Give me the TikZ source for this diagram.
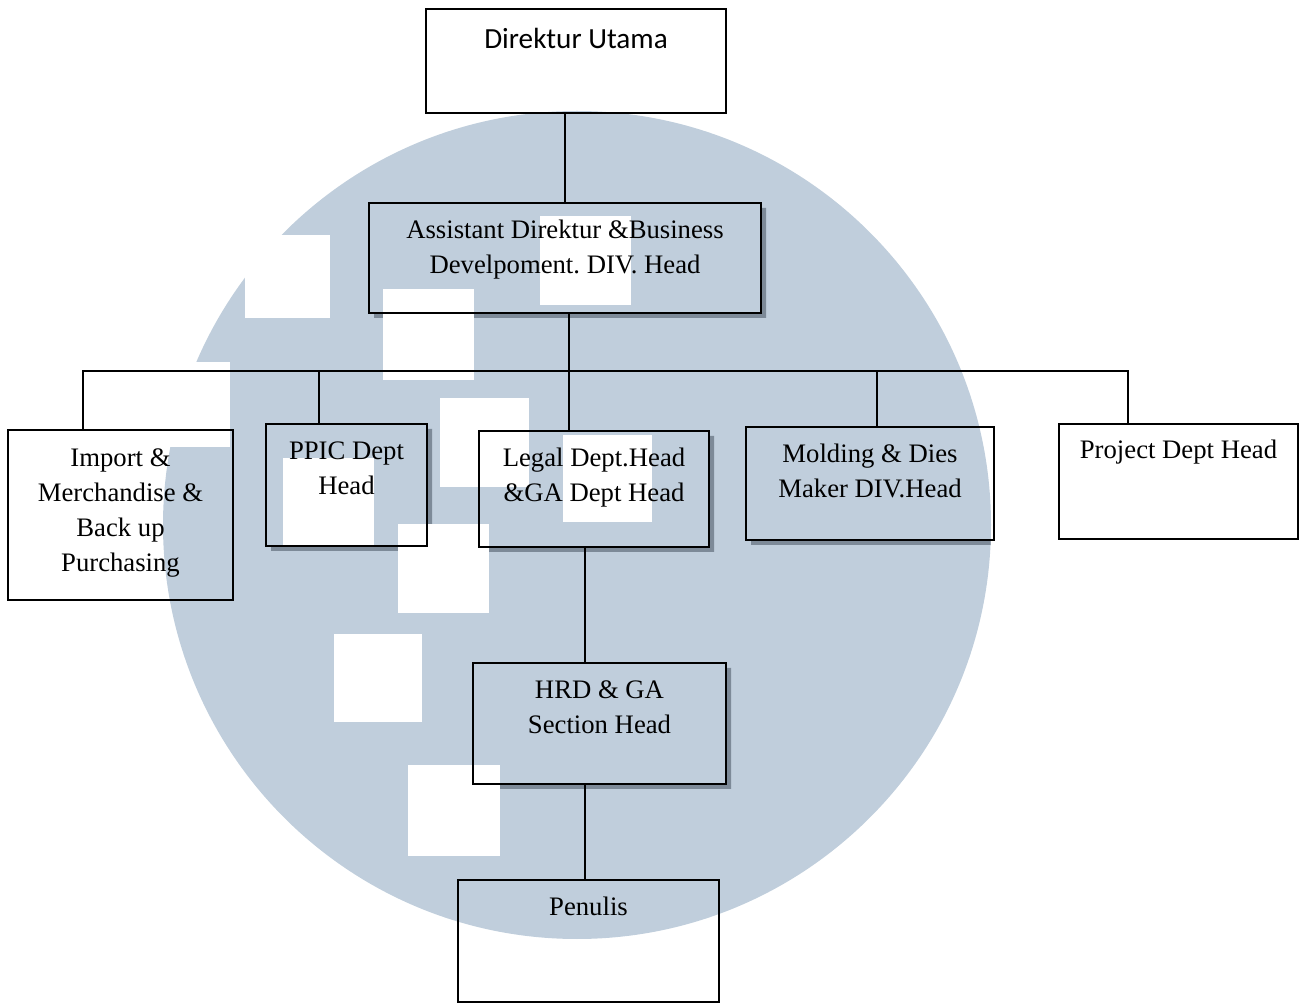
\documentclass[tikz,border=0pt]{standalone}
\usepackage{fontspec}
\setmainfont{Liberation Serif}
\newfontfamily\calibri{Carlito}
\usetikzlibrary{fit,backgrounds}
\frenchspacing
\definecolor{wmblue}{RGB}{192,206,220}
\definecolor{shadowgray}{RGB}{125,138,152}
\tikzset{
  box/.style={draw=black, line width=1pt, inner sep=0pt, outer sep=0pt},
  lbl/.style={anchor=north, inner sep=0pt, yshift=-8.5pt, align=center,
    font=\fontsize{13.35}{17.5}\selectfont},
  link/.style={line width=1pt},
}
% shadow strip on the right and bottom side of a box
\newcommand{\boxshadow}[1]{%
  \fill[shadowgray] ([shift={(0,5)}]#1.north east) -- ([shift={(5,5)}]#1.north east)
    -- ([shift={(5,5)}]#1.south east) -- ([shift={(5,5)}]#1.south west)
    -- ([shift={(5,0)}]#1.south west) -- (#1.south east) -- cycle;}
\begin{document}
\begin{tikzpicture}[x=0.5pt, y=-0.5pt]
  \useasboundingbox (0,0) rectangle (1303,1005);
  % boxes
  \node[box, fit={(426,9)(726,113)},
    label={[lbl, yshift=-1pt, font=\calibri\fontsize{14.6}{18}\selectfont]north:{Direktur Utama}}] (dir) {};
  \node[box, fit={(369,203)(761,313)},
    label={[lbl]north:{Assistant Direktur \&Business\\Develpoment. DIV. Head}}] (asst) {};
  \node[box, fit={(8,430)(233,600)},
    label={[lbl, yshift=-0.75pt]north:{Import \&\\Merchandise \&\\Back up\\Purchasing}}] (imp) {};
  \node[box, fit={(266,424)(427,546)},
    label={[lbl]north:{PPIC Dept\\Head}}] (ppic) {};
  \node[box, fit={(479,431)(709,547)},
    label={[lbl]north:{Legal Dept.Head\\\&GA Dept Head}}] (leg) {};
  \node[box, fit={(746,427)(994,540)},
    label={[lbl]north:{Molding \& Dies\\Maker DIV.Head}}] (mold) {};
  \node[box, fit={(1059,424)(1298,539)},
    label={[lbl, yshift=0.5pt]north:{Project Dept Head}}] (proj) {};
  \node[box, fit={(473,663)(726,784)},
    label={[lbl]north:{HRD \& GA\\Section Head}}] (hrd) {};
  \node[box, fit={(458,880)(719,1002)},
    label={[lbl]north:{Penulis}}] (pen) {};
  % connectors
  \coordinate (b1) at (83,371);
  \coordinate (b2) at (319,371);
  \coordinate (b3) at (569,371);
  \coordinate (b4) at (877,371);
  \coordinate (b5) at (1128,371);
  \coordinate (v) at (585,0);
  \draw[link] (asst.north |- dir.south) -- (asst.north);
  \draw[link] (b3 |- asst.south) -- (b3 |- leg.north);
  \draw[link] (b1 |- imp.north) -- (b1) -- (b5) -- (b5 |- proj.north);
  \draw[link] (b2) -- (b2 |- ppic.north);
  \draw[link] (b4) -- (b4 |- mold.north);
  \draw[link] (v |- leg.south) -- (v |- hrd.north);
  \draw[link] (v |- hrd.south) -- (v |- pen.north);
  % watermark behind everything
  \begin{scope}[on background layer]
    \fill[wmblue] (577,525) circle [radius=414];
    \fill[white] (140,362) rectangle (230,447);
    \begin{scope}
      \clip (577,525) circle [radius=414];
      \foreach \n in {asst,ppic,leg,mold,hrd} {\boxshadow{\n}}
    \end{scope}
    \foreach \xa/\ya/\xb/\yb in {245/235/330/318, 383/289/474/380, 540/216/631/305,
        440/398/529/487, 283/458/374/547, 563/435/652/522, 398/524/489/613,
        334/634/422/722, 408/765/500/856}
      \fill[white] (\xa,\ya) rectangle (\xb,\yb);
  \end{scope}
\end{tikzpicture}
\end{document}
